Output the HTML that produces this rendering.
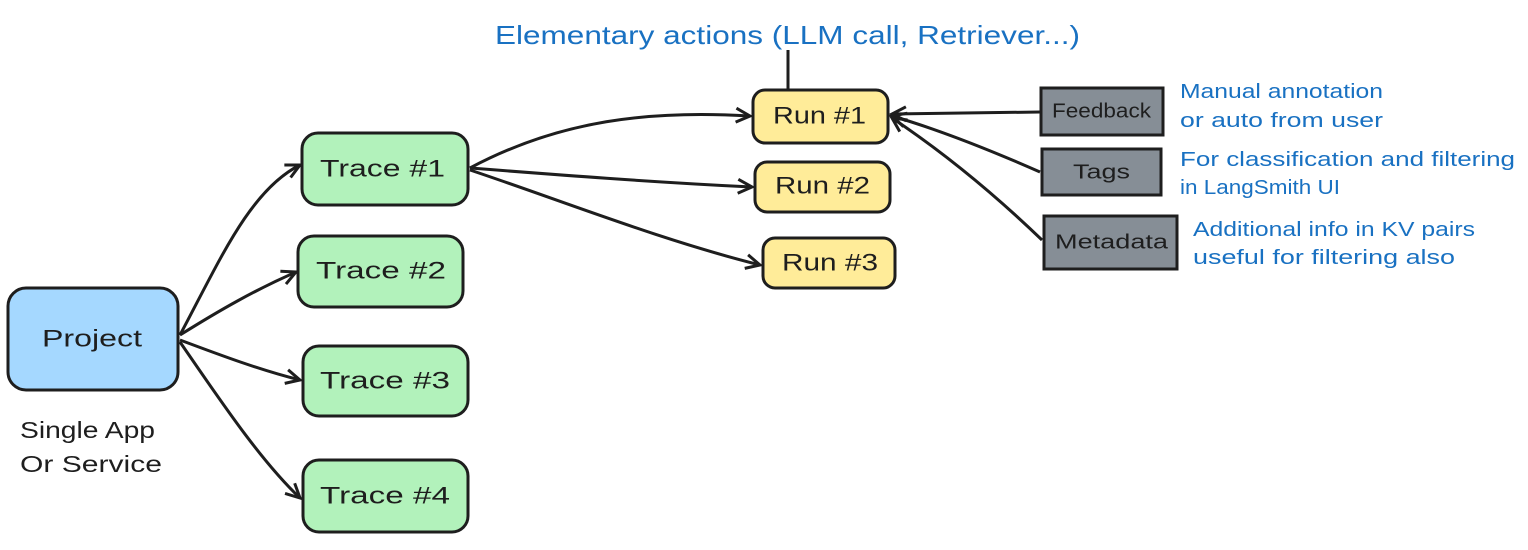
<!DOCTYPE html>
<html><head><meta charset="utf-8"><style>
html,body{margin:0;padding:0;background:#fff;}
svg{display:block;}
text{font-family:"Liberation Sans",sans-serif;}
</style></head><body>
<svg width="1528" height="550" viewBox="0 0 1528 550" xmlns="http://www.w3.org/2000/svg">
<defs>
<marker id="a" markerWidth="18" markerHeight="18" refX="15" refY="9" orient="auto" markerUnits="userSpaceOnUse">
<path d="M1,2 L15,9 L1,16" fill="none" stroke="#1e1e1e" stroke-width="3"/>
</marker>
</defs>
<g fill="none" stroke="#1e1e1e" stroke-width="3">
<path d="M180,335 C220,260 250,190 300,165" marker-end="url(#a)"/>
<path d="M180,335 C220,310 255,290 296,272" marker-end="url(#a)"/>
<path d="M180,340 C220,355 260,370 300,380" marker-end="url(#a)"/>
<path d="M180,342 C220,400 260,460 300,498" marker-end="url(#a)"/>
<path d="M470,168 C560,120 650,110 750,116" marker-end="url(#a)"/>
<path d="M470,168 C560,175 650,182 752,187" marker-end="url(#a)"/>
<path d="M470,170 C560,200 660,240 760,265" marker-end="url(#a)"/>
<path d="M1040,112 L892,114" marker-end="url(#a)"/>
<path d="M1040,172 C990,150 940,130 892,116" marker-end="url(#a)"/>
<path d="M1042,240 C990,190 940,150 892,118" marker-end="url(#a)"/>
<path d="M788,50 L788,92"/>
</g>
<g stroke="#1e1e1e" stroke-width="3">
<rect x="8" y="288" width="170" height="102" rx="18" fill="#a5d8ff"/>
<rect x="302" y="133" width="166" height="72" rx="16" fill="#b2f2bb"/>
<rect x="298" y="236" width="165" height="71" rx="16" fill="#b2f2bb"/>
<rect x="303" y="346" width="165" height="70" rx="16" fill="#b2f2bb"/>
<rect x="303" y="460" width="165" height="72" rx="16" fill="#b2f2bb"/>
<rect x="753" y="90" width="135" height="53" rx="12" fill="#ffec99"/>
<rect x="755" y="162" width="135" height="50" rx="12" fill="#ffec99"/>
<rect x="763" y="238" width="132" height="50" rx="12" fill="#ffec99"/>
<rect x="1041" y="88" width="122" height="47" fill="#868e96"/>
<rect x="1042" y="149" width="119" height="46" fill="#868e96"/>
<rect x="1044" y="216" width="133" height="53" fill="#868e96"/>
</g>
<g fill="#1e1e1e" font-size="24" dominant-baseline="middle" lengthAdjust="spacingAndGlyphs">
<text x="42" y="340" textLength="100" lengthAdjust="spacingAndGlyphs">Project</text>
<text x="320" y="170" textLength="125" lengthAdjust="spacingAndGlyphs">Trace #1</text>
<text x="316" y="272" textLength="130" lengthAdjust="spacingAndGlyphs">Trace #2</text>
<text x="320" y="382" textLength="130" lengthAdjust="spacingAndGlyphs">Trace #3</text>
<text x="320" y="497" textLength="130" lengthAdjust="spacingAndGlyphs">Trace #4</text>
<text x="773" y="117" textLength="93" lengthAdjust="spacingAndGlyphs">Run #1</text>
<text x="775" y="187" textLength="95" lengthAdjust="spacingAndGlyphs">Run #2</text>
<text x="782" y="264" textLength="96" lengthAdjust="spacingAndGlyphs">Run #3</text>
<text x="1052" y="112" font-size="20" textLength="99" lengthAdjust="spacingAndGlyphs">Feedback</text>
<text x="1073" y="173" font-size="20" textLength="57" lengthAdjust="spacingAndGlyphs">Tags</text>
<text x="1055" y="243" font-size="20" textLength="113" lengthAdjust="spacingAndGlyphs">Metadata</text>
</g>
<g fill="#1e1e1e" font-size="23">
<text x="20" y="438" textLength="135" lengthAdjust="spacingAndGlyphs">Single App</text>
<text x="20" y="472" textLength="142" lengthAdjust="spacingAndGlyphs">Or Service</text>
</g>
<g fill="#1971c2" font-size="20">
<text x="495" y="44" font-size="26" textLength="585" lengthAdjust="spacingAndGlyphs">Elementary actions (LLM call, Retriever...)</text>
<text x="1180" y="98" textLength="203" lengthAdjust="spacingAndGlyphs">Manual annotation</text>
<text x="1180" y="127" textLength="203" lengthAdjust="spacingAndGlyphs">or auto from user</text>
<text x="1180" y="166" textLength="335" lengthAdjust="spacingAndGlyphs">For classification and filtering</text>
<text x="1180" y="194" textLength="160" lengthAdjust="spacingAndGlyphs">in LangSmith UI</text>
<text x="1193" y="236" textLength="282" lengthAdjust="spacingAndGlyphs">Additional info in KV pairs</text>
<text x="1193" y="264" textLength="262" lengthAdjust="spacingAndGlyphs">useful for filtering also</text>
</g>
</svg>
</body></html>
